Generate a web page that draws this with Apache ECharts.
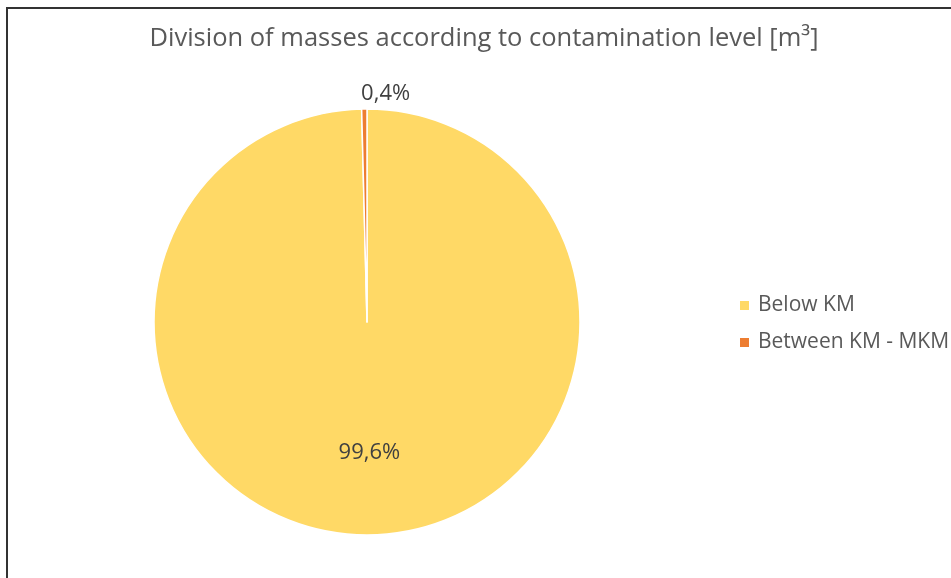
<!DOCTYPE html>
<html>
<head>
<meta charset="utf-8">
<script src="https://cdn.jsdelivr.net/npm/echarts@6/dist/echarts.min.js"></script>
<style>
html,body{margin:0;padding:0;background:#fff;}
#main{width:951px;height:578px;}
</style>
</head>
<body>
<div id="main"></div>
<script>
var categories = ['Below KM', 'Between KM - MKM'];
var values = [99.6, 0.4];
var colors = ['#FFD966', '#ED7D31'];
var titleText = 'Division of masses according to contamination level [m\u00B3]';

var FONT = '"Open Sans", "Noto Sans", sans-serif';
var chart = echarts.init(document.getElementById('main'));
var data = categories.map(function (c, i) {
  return { name: c, value: values[i], itemStyle: { color: colors[i] } };
});
var labelShift = [[1, 21], [20, -119]];

chart.setOption({
  animation: false,
  backgroundColor: '#fff',
  title: {
    text: titleText,
    left: 484,
    textAlign: 'center',
    top: 24,
    padding: 0,
    textStyle: { fontFamily: FONT, fontSize: 25.5, lineHeight: 30, fontWeight: 'normal', color: '#595959' }
  },
  legend: {
    orient: 'vertical',
    left: 738,
    top: 295,
    padding: 0,
    itemWidth: 11,
    itemHeight: 11,
    itemGap: 16,
    icon: 'rect',
    textStyle: { fontFamily: FONT, fontSize: 21, lineHeight: 21, color: '#595959', padding: [0, 0, 0, 3] },
    data: categories
  },
  graphic: [{
    type: 'rect',
    shape: { x: 7, y: 8, width: 1200, height: 1000 },
    style: { fill: 'none', stroke: '#333', lineWidth: 2 },
    silent: true
  }],
  series: [{
    type: 'pie',
    center: [367, 322],
    radius: 213,
    startAngle: 90,
    clockwise: true,
    data: data,
    itemStyle: { borderColor: '#fff', borderWidth: 1.5 },
    label: {
      position: 'inside',
      fontFamily: FONT,
      fontSize: 22,
      color: '#404040',
      formatter: function (p) { return p.percent.toFixed(1).replace('.', ',') + '%'; }
    },
    labelLine: { show: false },
    labelLayout: function (p) {
      return { dx: labelShift[p.dataIndex][0], dy: labelShift[p.dataIndex][1] };
    },
    emphasis: { disabled: true }
  }]
});
</script>
</body>
</html>
